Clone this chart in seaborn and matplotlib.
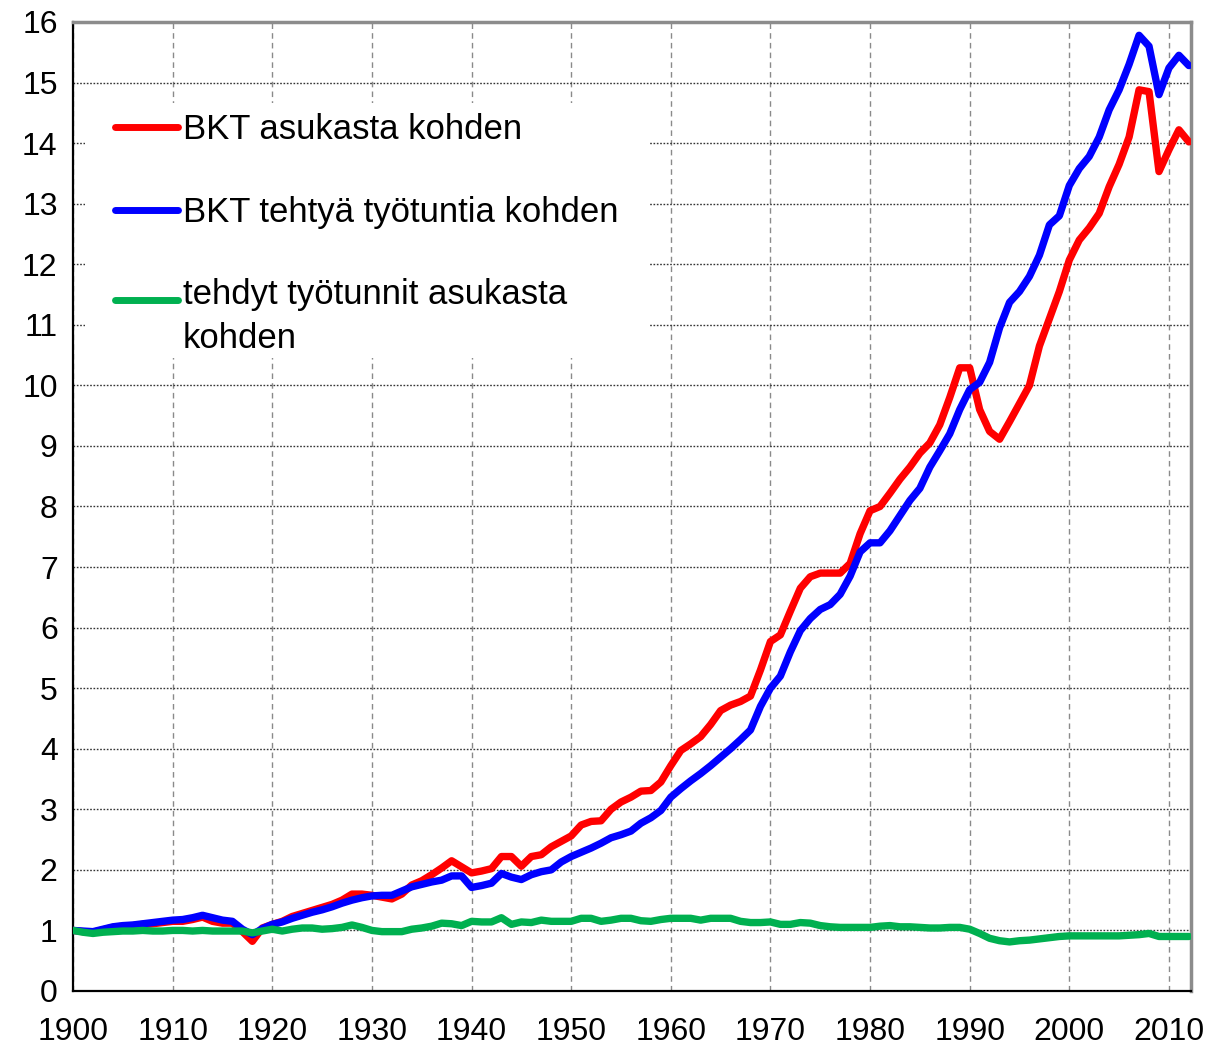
import matplotlib
matplotlib.use("Agg")
import matplotlib.pyplot as plt
from matplotlib.patches import Rectangle
import numpy as np
import pandas as pd
import seaborn as sns

YEARS = list(range(1900, 2013))

LABELS = [
    "BKT asukasta kohden",
    "BKT tehtyä työtuntia kohden",
    "tehdyt työtunnit asukasta\nkohden",
]
COLORS = ["#FF0000", "#0000FF", "#00B050"]

# BKT asukasta kohden (1900 = 1)
gdp_per_capita = [
    1.00, 0.98, 0.97, 1.01, 1.05, 1.07, 1.08, 1.10, 1.11, 1.13,
    1.15, 1.15, 1.18, 1.22, 1.15, 1.12, 1.12, 0.98, 0.82, 1.04,
    1.10, 1.15, 1.23, 1.28, 1.33, 1.38, 1.43, 1.50, 1.60, 1.60,
    1.58, 1.55, 1.52, 1.60, 1.75, 1.82, 1.92, 2.03, 2.15, 2.05,
    1.95, 1.98, 2.02, 2.22, 2.22, 2.06, 2.22, 2.25, 2.38, 2.47,
    2.56, 2.74, 2.80, 2.81, 3.00, 3.12, 3.20, 3.30, 3.31, 3.45,
    3.72, 3.97, 4.08, 4.20, 4.40, 4.63, 4.72, 4.78, 4.87, 5.30,
    5.77, 5.88, 6.27, 6.65, 6.84, 6.90, 6.90, 6.90, 7.06, 7.55,
    7.93, 8.00, 8.22, 8.45, 8.65, 8.88, 9.05, 9.35, 9.80, 10.29,
    10.29, 9.60, 9.24, 9.11, 9.40, 9.70, 10.00, 10.65, 11.10, 11.55,
    12.07, 12.40, 12.60, 12.84, 13.28, 13.65, 14.10, 14.88, 14.85, 13.53,
    13.89, 14.22, 14.02,
]

# BKT tehtyä työtuntia kohden
gdp_per_hour = [
    1.00, 0.99, 0.98, 1.02, 1.06, 1.08, 1.09, 1.11, 1.13, 1.15,
    1.17, 1.18, 1.21, 1.25, 1.21, 1.17, 1.15, 1.02, 0.93, 1.03,
    1.10, 1.14, 1.20, 1.25, 1.30, 1.34, 1.39, 1.45, 1.50, 1.54,
    1.57, 1.58, 1.58, 1.65, 1.72, 1.76, 1.80, 1.83, 1.90, 1.90,
    1.71, 1.74, 1.78, 1.94, 1.88, 1.84, 1.92, 1.97, 2.00, 2.13,
    2.22, 2.29, 2.36, 2.44, 2.53, 2.58, 2.64, 2.77, 2.86, 2.98,
    3.20, 3.34, 3.47, 3.59, 3.72, 3.86, 4.00, 4.15, 4.31, 4.70,
    5.00, 5.20, 5.60, 5.95, 6.15, 6.30, 6.38, 6.55, 6.85, 7.25,
    7.40, 7.40, 7.60, 7.85, 8.10, 8.30, 8.65, 8.92, 9.20, 9.60,
    9.93, 10.05, 10.38, 10.95, 11.37, 11.55, 11.80, 12.15, 12.65, 12.80,
    13.30, 13.58, 13.78, 14.10, 14.55, 14.88, 15.30, 15.78, 15.60, 14.80,
    15.24, 15.45, 15.28,
]

# tehdyt työtunnit asukasta kohden
hours_per_capita = [
    1.00, 0.97, 0.95, 0.97, 0.98, 0.99, 0.99, 1.00, 0.99, 0.99,
    1.00, 1.00, 0.99, 1.00, 0.99, 0.99, 0.99, 0.99, 0.96, 0.99,
    1.02, 0.99, 1.02, 1.04, 1.04, 1.02, 1.03, 1.05, 1.09, 1.05,
    1.00, 0.98, 0.98, 0.98, 1.02, 1.04, 1.07, 1.12, 1.11, 1.08,
    1.15, 1.14, 1.14, 1.21, 1.10, 1.14, 1.13, 1.17, 1.15, 1.15,
    1.15, 1.20, 1.20, 1.15, 1.17, 1.20, 1.20, 1.16, 1.15, 1.18,
    1.20, 1.20, 1.20, 1.17, 1.20, 1.20, 1.20, 1.15, 1.13, 1.13,
    1.14, 1.10, 1.10, 1.13, 1.12, 1.08, 1.06, 1.05, 1.05, 1.05,
    1.05, 1.07, 1.08, 1.06, 1.06, 1.05, 1.04, 1.04, 1.05, 1.05,
    1.02, 0.95, 0.87, 0.83, 0.81, 0.83, 0.84, 0.86, 0.88, 0.90,
    0.91, 0.91, 0.91, 0.91, 0.91, 0.91, 0.92, 0.93, 0.95, 0.90,
    0.90, 0.90, 0.90,
]

X_TICKS = list(range(1900, 2011, 10))
Y_TICKS = list(range(0, 17))

df = pd.DataFrame({
    "vuosi": YEARS * 3,
    "arvo": gdp_per_capita + gdp_per_hour + hours_per_capita,
    "sarja": sum([[lab] * len(YEARS) for lab in LABELS], []),
})

sns.set_style("white")
plt.rcParams["font.family"] = ["Liberation Sans", "DejaVu Sans"]
plt.rcParams["text.color"] = "black"

fig = plt.figure(figsize=(12.09, 10.47), dpi=100)
ax = fig.add_axes([0.0604, 0.0535, 0.9246, 0.9255])

sns.lineplot(data=df, x="vuosi", y="arvo", hue="sarja", hue_order=LABELS,
             palette=dict(zip(LABELS, COLORS)), linewidth=5.3, ax=ax,
             legend=False, zorder=3)

ax.set_xlim(1900, 2012.2)
ax.set_ylim(0, 16)
ax.set_xticks(X_TICKS)
ax.set_yticks(Y_TICKS)
ax.set_xlabel("")
ax.set_ylabel("")
ax.tick_params(axis="both", labelsize=23, direction="out", length=7,
               width=1.5, color="black", labelcolor="black")
ax.tick_params(axis="x", pad=12)
ax.tick_params(axis="y", pad=4)

ax.set_axisbelow(True)
ax.xaxis.grid(True, color="#8a8a8a", linestyle=(0, (4, 3)), linewidth=1)
ax.yaxis.grid(True, color="#333333", linestyle=(0, (1.2, 1.2)), linewidth=1)

for side in ["left", "bottom"]:
    ax.spines[side].set_color("black")
    ax.spines[side].set_linewidth(1.6)
for side in ["top", "right"]:
    ax.spines[side].set_color("#8c8c8c")
    ax.spines[side].set_linewidth(2.5)

# white box behind the legend, hiding the grid there
ax.add_patch(Rectangle((0.0107, 0.653), 0.505, 0.263, transform=ax.transAxes,
                       facecolor="white", edgecolor="none", zorder=1))

handles = [plt.Line2D([], [], color=c, linewidth=5) for c in COLORS]
leg = ax.legend(handles, LABELS, loc="upper left",
                bbox_to_anchor=(0.0376, 0.906), fontsize=25, frameon=False,
                handlelength=1.8, handletextpad=0.15,
                labelspacing=1.43, borderpad=0, borderaxespad=0)
linesp = 1.39
leg.get_texts()[2].set_linespacing(linesp)
# move the green handle to the first line of its two-line label
green_handle = leg.legend_handles[2]
shift = 0.5 * linesp * 0.73 * 25
green_handle.set_ydata(np.asarray(green_handle.get_ydata()) + shift)

fig.savefig("out.png", dpi=100)
